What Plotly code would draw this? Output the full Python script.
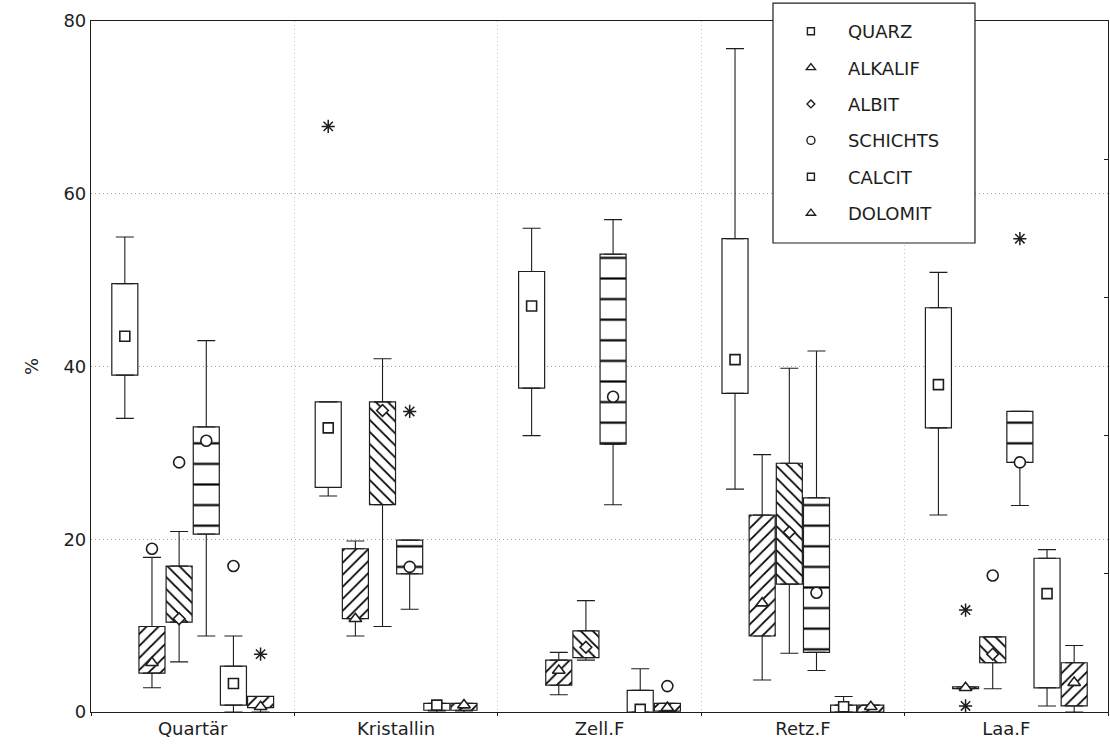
import plotly.graph_objects as go

# Groups along the x axis and the six mineral series
CATEGORIES = ["Quartär", "Kristallin", "Zell.F", "Retz.F", "Laa.F"]
SERIES = ["QUARZ", "ALKALIF", "ALBIT", "SCHICHTS", "CALCIT", "DOLOMIT"]
Y_TICKS = [0, 20, 40, 60, 80]

# Box statistics (%), one value per group in CATEGORIES order
QUARZ_LOWER = [34.0, 25.0, 32.0, 25.8, 22.8]
QUARZ_Q1 = [39.0, 26.0, 37.5, 36.9, 32.9]
QUARZ_MEDIAN = [43.5, 32.9, 47.0, 40.8, 37.9]
QUARZ_Q3 = [49.6, 35.9, 51.0, 54.8, 46.8]
QUARZ_UPPER = [55.0, 35.9, 56.0, 76.8, 50.9]

ALKALIF_LOWER = [2.8, 8.8, 2.0, 3.7, 2.7]
ALKALIF_Q1 = [4.5, 10.8, 3.1, 8.8, 2.7]
ALKALIF_MEDIAN = [5.7, 10.8, 4.8, 12.6, 2.8]
ALKALIF_Q3 = [9.9, 18.9, 6.0, 22.8, 2.9]
ALKALIF_UPPER = [17.9, 19.8, 6.9, 29.8, 2.9]

ALBIT_LOWER = [5.8, 9.9, 6.0, 6.8, 2.7]
ALBIT_Q1 = [10.4, 24.0, 6.3, 14.8, 5.7]
ALBIT_MEDIAN = [10.8, 34.9, 7.5, 20.8, 6.7]
ALBIT_Q3 = [16.9, 35.9, 9.4, 28.8, 8.7]
ALBIT_UPPER = [20.9, 40.9, 12.9, 39.8, 8.7]

SCHICHTS_LOWER = [8.8, 11.9, 24.0, 4.8, 23.9]
SCHICHTS_Q1 = [20.6, 16.0, 31.0, 6.9, 28.9]
SCHICHTS_MEDIAN = [31.4, 16.8, 36.5, 13.8, 28.9]
SCHICHTS_Q3 = [33.0, 19.9, 53.0, 24.8, 34.8]
SCHICHTS_UPPER = [43.0, 19.9, 57.0, 41.8, 34.8]

CALCIT_LOWER = [0.0, 0.0, 0.0, 0.0, 0.7]
CALCIT_Q1 = [0.8, 0.2, 0.0, 0.0, 2.8]
CALCIT_MEDIAN = [3.3, 0.8, 0.3, 0.6, 13.7]
CALCIT_Q3 = [5.3, 1.0, 2.5, 0.8, 17.8]
CALCIT_UPPER = [8.8, 1.0, 5.0, 1.8, 18.8]

DOLOMIT_LOWER = [0.0, 0.0, 0.0, 0.0, 0.0]
DOLOMIT_Q1 = [0.5, 0.2, 0.1, 0.0, 0.7]
DOLOMIT_MEDIAN = [0.6, 0.8, 0.5, 0.6, 3.4]
DOLOMIT_Q3 = [1.8, 1.0, 1.0, 0.8, 5.7]
DOLOMIT_UPPER = [1.8, 1.0, 1.0, 0.8, 7.7]

# Outliers (circles) and extremes (asterisks)
OUTLIER_SERIES = ["ALKALIF", "ALBIT", "CALCIT", "DOLOMIT", "ALBIT"]
OUTLIER_CATEGORY = ["Quartär", "Quartär", "Quartär", "Zell.F", "Laa.F"]
OUTLIER_VALUE = [18.9, 28.9, 16.9, 3.0, 15.8]

EXTREME_SERIES = ["DOLOMIT", "QUARZ", "SCHICHTS", "ALKALIF", "ALKALIF", "SCHICHTS"]
EXTREME_CATEGORY = ["Quartär", "Kristallin", "Kristallin", "Laa.F", "Laa.F", "Laa.F"]
EXTREME_VALUE = [6.7, 67.8, 34.8, 11.8, 0.7, 54.8]

STATS = {
    "QUARZ": (QUARZ_LOWER, QUARZ_Q1, QUARZ_MEDIAN, QUARZ_Q3, QUARZ_UPPER),
    "ALKALIF": (ALKALIF_LOWER, ALKALIF_Q1, ALKALIF_MEDIAN, ALKALIF_Q3, ALKALIF_UPPER),
    "ALBIT": (ALBIT_LOWER, ALBIT_Q1, ALBIT_MEDIAN, ALBIT_Q3, ALBIT_UPPER),
    "SCHICHTS": (SCHICHTS_LOWER, SCHICHTS_Q1, SCHICHTS_MEDIAN, SCHICHTS_Q3, SCHICHTS_UPPER),
    "CALCIT": (CALCIT_LOWER, CALCIT_Q1, CALCIT_MEDIAN, CALCIT_Q3, CALCIT_UPPER),
    "DOLOMIT": (DOLOMIT_LOWER, DOLOMIT_Q1, DOLOMIT_MEDIAN, DOLOMIT_Q3, DOLOMIT_UPPER),
}

# Styling per series: hatch of the box and symbol of the median marker
HATCH = {"QUARZ": "", "ALKALIF": "/", "ALBIT": "\\", "SCHICHTS": "-", "CALCIT": "", "DOLOMIT": "/"}
HATCH_SIZE = {"QUARZ": 8.5, "ALKALIF": 8.5, "ALBIT": 8.5, "SCHICHTS": 20.6, "CALCIT": 8.5, "DOLOMIT": 8.5}
HATCH_SOLIDITY = {"QUARZ": 0.2, "ALKALIF": 0.21, "ALBIT": 0.21, "SCHICHTS": 0.105, "CALCIT": 0.2, "DOLOMIT": 0.21}
SYMBOL = {"QUARZ": "square", "ALKALIF": "triangle-up", "ALBIT": "diamond",
          "SCHICHTS": "circle", "CALCIT": "square", "DOLOMIT": "triangle-up"}
MEDIAN_SIZE = {"QUARZ": 10, "ALKALIF": 11, "ALBIT": 9, "SCHICHTS": 11, "CALCIT": 10, "DOLOMIT": 11}
LEGEND_SIZE = {"QUARZ": 7, "ALKALIF": 8, "ALBIT": 6, "SCHICHTS": 8, "CALCIT": 7, "DOLOMIT": 8}

INK = "#1e1e1e"
FONT = "DejaVu Sans, Liberation Sans, Arial, sans-serif"
STEP = 0.1335      # distance between neighbouring boxes in a group (category units)
BOX_WIDTH = 0.128


def position(cat_idx, ser_idx):
    return cat_idx + (ser_idx - (len(SERIES) - 1) / 2) * STEP


fig = go.Figure()

for si, name in enumerate(SERIES):
    lower, q1, med, q3, upper = STATS[name]
    xs = [position(ci, si) for ci in range(len(CATEGORIES))]

    # box body from Q1 to Q3
    fig.add_trace(go.Bar(
        x=xs, base=q1, y=[b - a for a, b in zip(q1, q3)], width=BOX_WIDTH,
        marker=dict(color="white", line=dict(color=INK, width=1.2),
                    pattern=dict(shape=HATCH[name], fgcolor="#000000", bgcolor="white",
                                 fgopacity=1, size=HATCH_SIZE[name],
                                 solidity=HATCH_SOLIDITY[name])),
        showlegend=False, hoverinfo="skip",
    ))
    # upper whisker
    fig.add_trace(go.Scatter(
        x=xs, y=q3, mode="markers", marker=dict(size=1, opacity=0),
        error_y=dict(type="data", symmetric=False,
                     array=[u - t for t, u in zip(q3, upper)],
                     arrayminus=[0] * len(q3), color=INK, thickness=1.1, width=9),
        showlegend=False, hoverinfo="skip",
    ))
    # lower whisker
    fig.add_trace(go.Scatter(
        x=xs, y=q1, mode="markers", marker=dict(size=1, opacity=0),
        error_y=dict(type="data", symmetric=False, array=[0] * len(q1),
                     arrayminus=[b - lo for lo, b in zip(lower, q1)],
                     color=INK, thickness=1.1, width=9),
        showlegend=False, hoverinfo="skip",
    ))
    # median marker
    fig.add_trace(go.Scatter(
        x=xs, y=med, mode="markers",
        marker=dict(symbol=SYMBOL[name], size=MEDIAN_SIZE[name], color="white",
                    line=dict(color=INK, width=1.6)),
        name=name, showlegend=False,
    ))

# outliers
fig.add_trace(go.Scatter(
    x=[position(CATEGORIES.index(c), SERIES.index(s)) for c, s in zip(OUTLIER_CATEGORY, OUTLIER_SERIES)],
    y=OUTLIER_VALUE, mode="markers",
    marker=dict(symbol="circle-open", size=11, color=INK, line=dict(width=1.6)),
    showlegend=False, name="Ausreißer",
))
# extremes
fig.add_trace(go.Scatter(
    x=[position(CATEGORIES.index(c), SERIES.index(s)) for c, s in zip(EXTREME_CATEGORY, EXTREME_SERIES)],
    y=EXTREME_VALUE, mode="markers",
    marker=dict(symbol="asterisk-open", size=11, color=INK, line=dict(width=1.5, color=INK)),
    showlegend=False, name="Extremwerte",
))

# legend entries: median symbols only
for name in SERIES:
    fig.add_trace(go.Scatter(
        x=[None], y=[None], mode="markers", name=name, legendgroup=name,
        marker=dict(symbol=SYMBOL[name], size=LEGEND_SIZE[name], color="white",
                    line=dict(color=INK, width=1.4)),
    ))

# unlabelled tick marks on the right frame
fig.add_trace(go.Scatter(x=[None], y=[None], yaxis="y2", showlegend=False, hoverinfo="skip"))

# legend frame (white panel drawn over the plot frame)
fig.add_shape(type="rect", xref="paper", yref="paper",
              x0=0.6706, x1=0.8692, y0=0.6787, y1=1.026,
              line=dict(color=INK, width=1.2), fillcolor="white", layer="above")

fig.update_layout(
    width=1110, height=755,
    margin=dict(l=91, r=2, t=21, b=43),
    paper_bgcolor="white", plot_bgcolor="white",
    barmode="overlay",
    font=dict(family=FONT, size=18, color=INK),
    showlegend=True,
    legend=dict(
        x=0.6715, y=1.0116, xanchor="left", yanchor="top",
        bgcolor="rgba(0,0,0,0)", borderwidth=0,
        font=dict(family=FONT, size=18, color=INK),
        itemwidth=64, tracegroupgap=10, traceorder="grouped",
    ),
    xaxis=dict(
        range=[-0.5, len(CATEGORIES) - 0.5],
        tickmode="array", tickvals=list(range(len(CATEGORIES))), ticktext=CATEGORIES,
        ticks="", showgrid=False, zeroline=False,
        showline=True, linecolor=INK, linewidth=1.2, mirror=True,
        tickfont=dict(size=18),
        minor=dict(tick0=0.5, dtick=1, showgrid=True, gridcolor="#c4c4c4",
                   griddash="1px,3px", gridwidth=1, ticks="outside", ticklen=3, tickcolor=INK),
    ),
    yaxis=dict(
        range=[0, 80], tickmode="array", tickvals=Y_TICKS,
        ticks="", showgrid=True, gridcolor="#a0a0a0", griddash="1px,3px", gridwidth=1,
        zeroline=False, showline=True, linecolor=INK, linewidth=1.2, mirror=True,
        tickfont=dict(size=18),
        title=dict(text="%", font=dict(size=18), standoff=20),
    ),
    yaxis2=dict(
        overlaying="y", side="right", range=[0, 80],
        tickmode="array", tickvals=[16, 32, 48, 64], ticks="inside", ticklen=4,
        tickcolor=INK, showticklabels=False, showgrid=False, zeroline=False,
        showline=False,
    ),
)

fig.write_html("out.html")
